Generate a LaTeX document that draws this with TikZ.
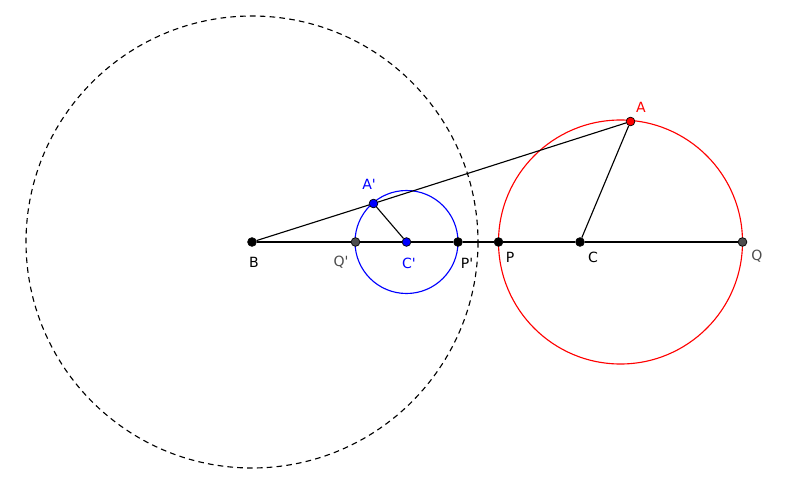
\documentclass[tikz,border=0pt]{standalone}
\usepackage{fontspec}
\setmainfont{DejaVu Sans}
\usepackage{tikz}
\definecolor{dgray}{RGB}{77,77,77}

\tikzset{pt/.style={circle,draw=black,line width=0.5pt,inner sep=0pt,minimum size=6.2pt},
	lbl/.style={font=\fontsize{10}{11}\selectfont,inner sep=0pt}}

\begin{document}
\begin{tikzpicture}[x=0.025cm,y=-0.025cm,line width=0.8pt]
						\useasboundingbox (0,0) rectangle (800,492);
						% circles
						\draw[dashed,dash pattern=on 4pt off 3pt] (252,242) circle (226);
						\draw[red] (620.5,242) circle (122);
						\draw[blue] (406.5,242) circle (51.5);
						% points
						\node[pt,fill=black] (B) at (252,242) {};
						\node[pt,fill=dgray] (Qp) at (355.5,242) {};
						\node[pt,fill=blue] (Cp) at (406.5,242) {};
						\node[pt,fill=black] (Pp) at (458,242) {};
						\node[pt,fill=black] (P) at (498.5,242) {};
						\node[pt,fill=black] (C) at (580,242) {};
						\node[pt,fill=dgray] (Q) at (742.5,242) {};
						\node[pt,fill=red] (A) at (630.5,121.5) {};
						\node[pt,fill=blue] (Ap) at (373.5,203.5) {};
						% segments
						\draw (B) -- (Qp) -- (Cp) -- (Pp) -- (P) -- (C) -- (Q);
						\draw (B) -- (Ap) -- (A);
						\draw (C) -- (A);
						\draw (Cp) -- (Ap);
						% labels
						\node[lbl] (lB) at (254,262) {B};
						\node[lbl,text=dgray] (lQp) at (341,262) {Q\textquotesingle};
						\node[lbl,text=blue] (lCp) at (409,263) {C\textquotesingle};
						\node[lbl] (lPp) at (467,263) {P\textquotesingle};
						\node[lbl] (lP) at (510,257) {P};
						\node[lbl] (lC) at (593,257) {C};
						\node[lbl,text=dgray] (lQ) at (757,256) {Q};
						\node[lbl,text=red] (lA) at (641,107) {A};
						\node[lbl,text=blue] (lAp) at (369,184) {A\textquotesingle};
					\end{tikzpicture}
\end{document}
